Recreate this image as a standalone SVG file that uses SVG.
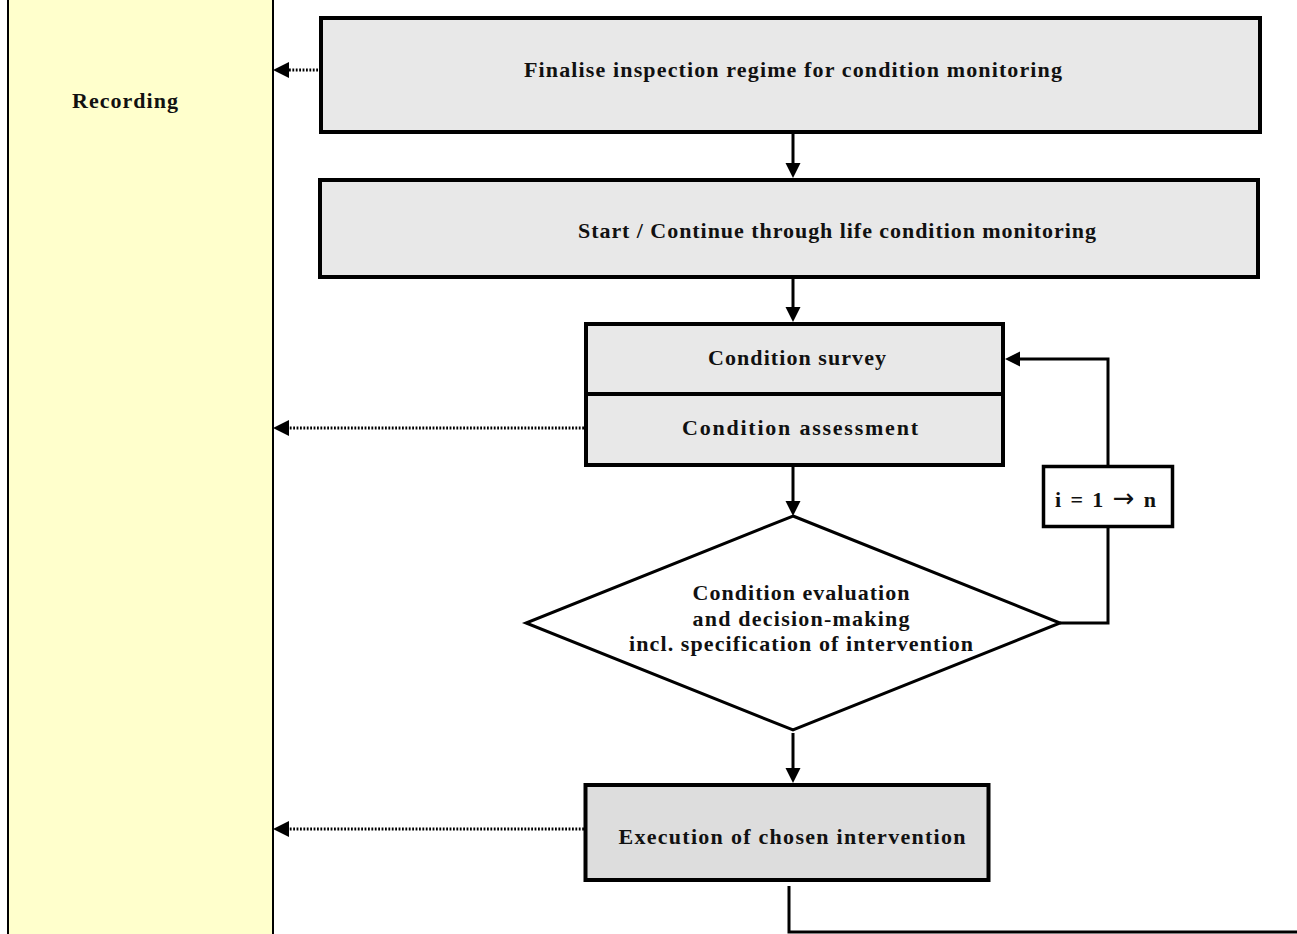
<svg xmlns="http://www.w3.org/2000/svg" width="1297" height="934" viewBox="0 0 1297 934">
  <style>
    .box { fill: #e8e8e8; stroke: #000; stroke-width: 4; }
    .box-dark { fill: #dddddd; stroke: #000; stroke-width: 4; }
    .plain { fill: #fff; stroke: #000; stroke-width: 3.5; }
    .lbl { font-family: "Liberation Serif", "Times New Roman", serif; font-weight: bold; font-size: 22px; fill: #111; text-anchor: middle; }
    .sym { font-family: "DejaVu Sans", sans-serif; font-weight: normal; font-size: 26px; }
    .flow { fill: none; stroke: #000; stroke-width: 3; }
    .dots { fill: none; stroke: #000; stroke-width: 3; stroke-dasharray: 1.8 1.6; }
  </style>
  <defs>
    <marker id="head" markerUnits="userSpaceOnUse" markerWidth="16" markerHeight="16" refX="9" refY="7.5" orient="auto">
      <path d="M0,0 L15,7.5 L0,15 z" fill="#000"/>
    </marker>
  </defs>

  <rect width="1297" height="934" fill="#fff"/>

  <!-- recording lane -->
  <g id="recording">
    <rect x="8" y="-2" width="265" height="940" fill="#ffffcc"/>
    <line x1="8" y1="0" x2="8" y2="934" stroke="#000" stroke-width="2"/>
    <line x1="273" y1="0" x2="273" y2="934" stroke="#000" stroke-width="2"/>
    <text class="lbl" x="125" y="108" textLength="106" lengthAdjust="spacing">Recording</text>
  </g>

  <g id="finalise">
    <rect class="box" x="321" y="18" width="939" height="114"/>
    <text class="lbl" x="793" y="77" textLength="538" lengthAdjust="spacing">Finalise inspection regime for condition monitoring</text>
  </g>

  <g id="monitoring">
    <rect class="box" x="320" y="180" width="938" height="97"/>
    <text class="lbl" x="837" y="238" textLength="518" lengthAdjust="spacing">Start / Continue through life condition monitoring</text>
  </g>

  <g id="survey">
    <rect class="box" x="586" y="324" width="417" height="70"/>
    <text class="lbl" x="797" y="365" textLength="178" lengthAdjust="spacing">Condition survey</text>
  </g>

  <g id="assessment">
    <rect class="box" x="586" y="394" width="417" height="71"/>
    <text class="lbl" x="800" y="435" textLength="236" lengthAdjust="spacing">Condition assessment</text>
  </g>

  <g id="evaluation">
    <polygon points="793,516 1060,623 793,730 526,623" fill="#fff" stroke="#000" stroke-width="3"/>
    <text class="lbl" x="801" y="600" textLength="217" lengthAdjust="spacing">Condition evaluation</text>
    <text class="lbl" x="801" y="626" textLength="217" lengthAdjust="spacing">and decision-making</text>
    <text class="lbl" x="801" y="651" textLength="344" lengthAdjust="spacing">incl. specification of intervention</text>
  </g>

  <g id="iteration">
    <rect class="plain" x="1043.5" y="466.5" width="129" height="60"/>
    <text class="lbl" x="1105.5" y="507" textLength="101" lengthAdjust="spacing">i = 1 <tspan class="sym">→</tspan> n</text>
  </g>

  <g id="execution">
    <rect class="box-dark" x="585.5" y="785" width="403" height="95"/>
    <text class="lbl" x="792" y="844" textLength="347" lengthAdjust="spacing">Execution of chosen intervention</text>
  </g>

  <!-- connectors -->
  <g id="connectors">
    <line class="flow" x1="793" y1="134" x2="793" y2="172" marker-end="url(#head)"/>
    <line class="flow" x1="793" y1="279" x2="793" y2="316" marker-end="url(#head)"/>
    <line class="flow" x1="793" y1="467" x2="793" y2="510" marker-end="url(#head)"/>
    <line class="flow" x1="793" y1="733" x2="793" y2="777" marker-end="url(#head)"/>
    <polyline class="flow" points="1060,623 1108,623 1108,528"/>
    <polyline class="flow" points="1108,466 1108,359 1011,359" marker-end="url(#head)"/>
    <polyline class="flow" points="789,886 789,932 1297,932"/>
    <line class="dots" x1="318" y1="70" x2="286" y2="70"/>
    <line class="dots" x1="584" y1="428" x2="286" y2="428"/>
    <line class="dots" x1="584" y1="829" x2="286" y2="829"/>
    <path d="M289,62 L273,70 L289,78 z" fill="#000"/>
    <path d="M289,420 L273,428 L289,436 z" fill="#000"/>
    <path d="M289,821 L273,829 L289,837 z" fill="#000"/>
  </g>
</svg>
